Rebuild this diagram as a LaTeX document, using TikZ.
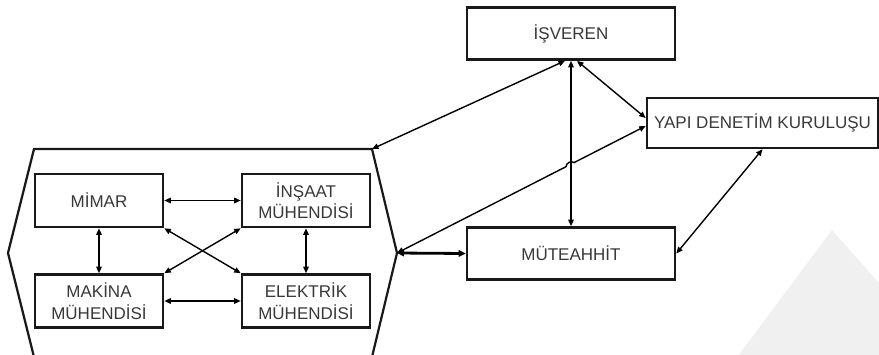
\documentclass[tikz,border=0pt]{standalone}
\usepackage{fontspec}
\setmainfont{Liberation Sans}
\usetikzlibrary{arrows.meta,calc}
\begin{document}
\begin{tikzpicture}[x=1pt,y=1pt,
  box/.style={draw=black!90, line width=2.6pt, inner sep=0pt, align=center,
    text=black!78, font=\fontsize{17}{21.5}\selectfont},
  sbox/.style={box, minimum width=128pt, minimum height=53pt},
  wbox/.style={box, minimum width=208pt, minimum height=52pt},
  link/.style={line width=1.4pt, {Triangle[length=6.5pt,width=5.5pt]}-{Triangle[length=6.5pt,width=5.5pt]}},
  tlink/.style={line width=2.8pt, {Triangle[length=7pt,width=6.5pt]}-{Triangle[length=7pt,width=6.5pt]}},
  hexline/.style={line width=2.2pt, draw=black!90}]
\clip (0,0) rectangle (879,-354);
% watermark shape
\fill[black!6] (832,-230) -- (735,-360) -- (879,-360) -- (879,-283) -- cycle;
% hexagon frame
\coordinate (hexTL) at (34,-149);
\coordinate (hexTR) at (372,-149);
\coordinate (hexR) at (397,-253);
\coordinate (hexBR) at (372,-357);
\coordinate (hexBL) at (34,-357);
\coordinate (hexL) at (8,-253);
\draw[hexline] (hexTL) -- (hexTR) -- (hexR) -- (hexBR) -- (hexBL) -- (hexL) -- cycle;
% inner boxes
\node[sbox] (mimar) at (99,-200.5) {MİMAR};
\node[sbox] (insaat) at (306,-200.5) {İNŞAAT\\MÜHENDİSİ};
\node[sbox] (makina) at (99,-301) {MAKİNA\\MÜHENDİSİ};
\node[sbox] (elektrik) at (306,-301) {ELEKTRİK\\MÜHENDİSİ};
% outer boxes
\node[wbox] (isveren) at (571,-33.5) {İŞVEREN};
\node[box, minimum width=231pt, minimum height=50pt] (yapi) at (762.5,-123) {YAPI DENETİM KURULUŞU};
\node[wbox] (mut) at (571,-253.5) {MÜTEAHHİT};
% inner links
\draw[link] (mimar.east) -- (insaat.west);
\draw[link] (makina.east) -- (elektrik.west);
\draw[link] (mimar.south) -- (makina.north);
\draw[link] (insaat.south) -- (elektrik.north);
\draw[link] (mimar.south east) -- (elektrik.north west);
\draw[link] (insaat.south west) -- (makina.north east);
% outer links
\coordinate (yapiA) at ($(yapi.west)+(0,5)$);
\coordinate (yapiB) at ($(yapi.west)+(0,-3)$);
\coordinate (isvA) at ($(isveren.south)+(-6,0)$);
\coordinate (isvB) at ($(isveren.south)+(6,0)$);
\coordinate (yapiS) at ($(yapi.south)+(0,0)$);
\draw[link] (hexTR) -- (isvA);
\draw[link] (isveren.south) -- (mut.north);
\draw[link] (isvB) -- (yapiA);
\draw[link] (hexR) -- ($(hexR)!0.68!(yapiB)$) to[bend left=70] ($(hexR)!0.712!(yapiB)$) -- (yapiB);
\draw[tlink] (hexR) -- (mut.west);
\draw[link] (yapiS) -- (mut.east);
\end{tikzpicture}
\end{document}
